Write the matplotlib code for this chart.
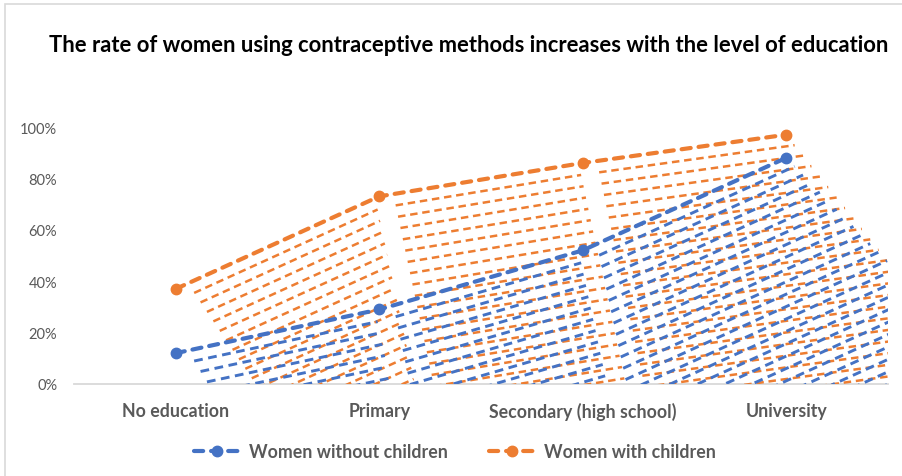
import matplotlib
matplotlib.use("Agg")
import matplotlib.pyplot as plt
from matplotlib.patches import Rectangle
from matplotlib.lines import Line2D

# ---- data -------------------------------------------------------------
categories = ["No education", "Primary", "Secondary (high school)", "University"]
without_children = [12, 29, 52, 88]   # % using contraception
with_children = [37, 73, 86, 97]      # % using contraception
y_ticks = [0, 20, 40, 60, 80, 100]
y_tick_labels = ["0%", "20%", "40%", "60%", "80%", "100%"]
series_names = ["Women without children", "Women with children"]
title = "The rate of women using contraceptive methods increases with the level of education"

BLUE = "#4472C4"
ORANGE = "#ED7D31"
GREY_TXT = "#595959"
GREY_LINE = "#D9D9D9"

plt.rcParams["font.family"] = ["Lato", "DejaVu Sans"]

W, H = 902, 477
fig = plt.figure(figsize=(W / 100, H / 100), dpi=100)
ax_left, ax_right, ax_top, ax_bot = 74, 888, 128, 385
ax = fig.add_axes([ax_left / W, 1 - ax_bot / H,
                   (ax_right - ax_left) / W, (ax_bot - ax_top) / H])
ax.set_xlim(-0.5, len(categories) - 0.5)
ax.set_ylim(0, 100)

PX_CAT = (ax_right - ax_left) / len(categories)   # pixels per category
PX_PCT = (ax_bot - ax_top) / 100.0                # pixels per percent


def echo_segments(values, n_copies, step_px=11.3, drift_px=2.4,
                  lead_px=(12.0, 4.0), inner_gap_px=14.0,
                  trail_gap_px=4.0, reach_px=6.0):
    """Stacked, offset copies of each segment of a series (a ghosted trail)."""
    segs = []
    last = len(values) - 2
    for k in range(1, n_copies + 1):
        dx = drift_px * k / PX_CAT
        dy = step_px * k / PX_PCT
        for i in range(len(values) - 1):
            slope = values[i + 1] - values[i]
            if i == 0:
                start = (lead_px[0] + lead_px[1] * k) / PX_CAT
            else:
                start = inner_gap_px / PX_CAT
            end = -trail_gap_px / PX_CAT
            if i == last:
                end = reach_px * k / PX_CAT
            xa = i + dx + start
            xb = i + 1 + dx + end
            ya = values[i] + slope * (xa - dx - i) - dy
            yb = values[i] + slope * (xb - dx - i) - dy
            segs.append(((xa, xb), (ya, yb)))
    return segs


for vals, col, lw in ((with_children, ORANGE, 1.8), (without_children, BLUE, 2.1)):
    for xs, ys in echo_segments(vals, 26):
        ax.plot(xs, ys, color=col, lw=lw, dashes=(3.0, 1.9),
                dash_capstyle="butt", zorder=2)

x = list(range(len(categories)))
for vals, col in ((with_children, ORANGE), (without_children, BLUE)):
    ax.plot(x, vals, color=col, lw=3.0, dashes=(2.2, 1.9), marker="o",
            ms=7.5, mec=col, mfc=col, dash_capstyle="round",
            zorder=5, clip_on=False)

# axes styling
for side in ("left", "right", "top"):
    ax.spines[side].set_visible(False)
ax.spines["bottom"].set_color(GREY_LINE)
ax.spines["bottom"].set_linewidth(1.3)
ax.spines["bottom"].set_zorder(1)
ax.set_yticks(y_ticks)
ax.set_yticklabels(y_tick_labels)
ax.set_xticks(x)
ax.set_xticklabels(categories, fontweight="bold")
ax.tick_params(axis="y", length=0, pad=12, labelsize=10.5, labelcolor=GREY_TXT)
ax.tick_params(axis="x", length=0, pad=13, labelsize=12.8, labelcolor=GREY_TXT)
ax.patch.set_alpha(0)

fig.text(469 / W, 1 - 45 / H, title, ha="center", va="center",
         fontsize=15.8, fontweight="bold", color="black")

handles = [Line2D([], [], color=BLUE, lw=3.0, dashes=(2.2, 1.9),
                  dash_capstyle="round", marker="o", ms=7.5),
           Line2D([], [], color=ORANGE, lw=3.0, dashes=(2.2, 1.9),
                  dash_capstyle="round", marker="o", ms=7.5)]
leg = fig.legend(handles, series_names, loc="center", ncol=2,
                 bbox_to_anchor=(455 / W, 1 - 453 / H), frameon=False,
                 handlelength=2.55, columnspacing=2.3, handletextpad=0.55,
                 prop={"weight": "bold", "size": 12.8})
for t in leg.get_texts():
    t.set_color(GREY_TXT)

fig.add_artist(Rectangle((5 / W, -0.05), 1.2, 1 - 5 / H + 0.05,
                         transform=fig.transFigure, fill=False,
                         ec=GREY_LINE, lw=1.2))

fig.savefig("out.png", dpi=100, facecolor="white")
